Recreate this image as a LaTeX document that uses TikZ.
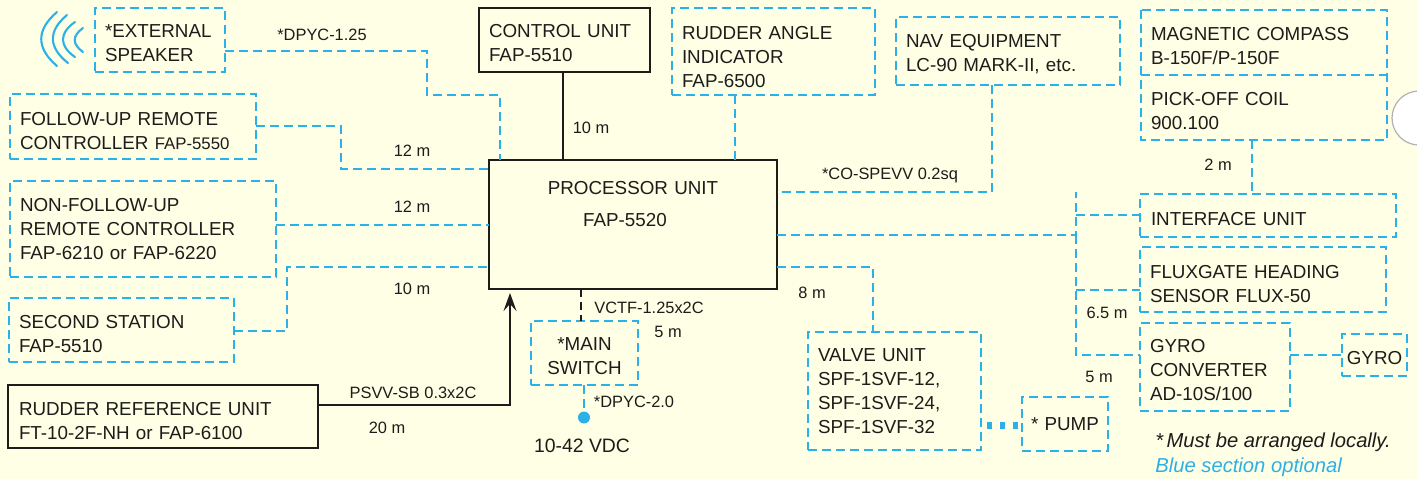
\documentclass[tikz,border=0pt]{standalone}
\usepackage{fontspec}
\setmainfont{Liberation Sans}
\usetikzlibrary{arrows.meta}
\definecolor{paper}{HTML}{FFFFE6}
\definecolor{cblue}{HTML}{2BB0E8}
\definecolor{ink}{HTML}{1C1C1A}
\tikzset{
  unit/.style={draw=ink,line width=1.1pt,inner sep=0pt,outer sep=0pt,align=left,text=ink,font=\fontsize{9.4}{12}\selectfont},
  optunit/.style={unit,draw=cblue,line width=1.3pt,dash pattern=on 4.4pt off 2.6pt},
  optwire/.style={draw=cblue,line width=1.3pt,dash pattern=on 4.4pt off 2.6pt},
  wire/.style={draw=ink,line width=1.1pt},
  lab/.style={text=ink,inner sep=0pt,font=\fontsize{8.2}{10}\selectfont},
  wave/.style={draw=cblue,line width=1.05pt,line cap=round},
  drop/.style={execute at begin node={\leavevmode\rule{0pt}{\dimexpr 6.8pt+#1\relax}}}
}
% style, name, x1, y1, x2, y2, inset(px), text
\newcommand{\ubox}[8]{%
  \pgfmathsetmacro\bw{(#5-#3)*0.5}%
  \pgfmathsetmacro\bh{(#6-#4)*0.5}%
  \pgfmathsetmacro\bcx{(#3+#5)/2}%
  \pgfmathsetmacro\bcy{(#4+#6)/2}%
  \pgfmathsetmacro\bin{#7*0.5}%
  \pgfmathsetmacro\btw{\bw-2*\bin}%
  \node[#1,minimum width=\bw pt,minimum height=\bh pt,inner xsep=\bin pt,text width=\btw pt] (#2) at (\bcx,\bcy) {#8};%
}
\begin{document}
\begin{tikzpicture}[x=0.5pt,y=-0.5pt]
\useasboundingbox (0,0) rectangle (1417,479);
\fill[paper] (0,0) rectangle (1417,479);
\begin{scope}
  \clip (0,0) rectangle (1417,479);
  \filldraw[fill=white,draw=black!30,line width=0.6pt] (1419,118) circle[radius=27];
\end{scope}

% speaker waves
\draw[wave] (57,12) .. controls (36,30) and (36,48) .. (57,66);
\draw[wave] (67,15) .. controls (48,31) and (48,47) .. (68,63);
\draw[wave] (75,22) .. controls (59,33) and (59,46) .. (75,57);
\draw[wave] (83,28) .. controls (72,36) and (72,44) .. (83,52);

% units
\ubox{optunit,drop=3pt}{spk}{95}{8}{225}{72}{10}{*EXTERNAL\\SPEAKER}
\ubox{optunit,drop=4pt}{fu}{10}{94}{256}{159}{10}{FOLLOW-UP REMOTE\\CONTROLLER {\fontsize{8.4}{12}\selectfont FAP-5550}}
\ubox{optunit}{nfu}{10}{181}{276}{277}{10}{NON-FOLLOW-UP\\REMOTE CONTROLLER\\FAP-6210 or FAP-6220}
\ubox{optunit,drop=4pt}{second}{9}{298}{234}{362}{10}{SECOND STATION\\FAP-5510}
\ubox{unit,drop=4pt}{rudref}{8}{385}{318}{448}{11}{RUDDER REFERENCE UNIT\\FT-10-2F-NH or FAP-6100}
\ubox{unit,drop=3pt}{ctrl}{479}{8}{650}{72}{10}{CONTROL UNIT\\FAP-5510}
\ubox{optunit,drop=5pt}{rai}{672}{8}{875}{95}{10}{RUDDER ANGLE\\INDICATOR\\FAP-6500}
\ubox{optunit,drop=3pt}{nav}{896}{17}{1120}{85}{10}{NAV EQUIPMENT\\LC-90 MARK-II, etc.}
\ubox{optunit,draw=none,drop=3.5pt}{mag}{1141}{10}{1387}{75}{10}{MAGNETIC COMPASS\\B-150F/P-150F}
\ubox{optunit,draw=none,drop=3.5pt}{pick}{1141}{75}{1387}{140}{10}{PICK-OFF COIL\\900.100}
\ubox{optunit,drop=3pt}{iface}{1140}{194}{1396}{237}{11}{INTERFACE UNIT}
\ubox{optunit,drop=4pt}{flux}{1140}{247}{1386}{312}{10}{FLUXGATE HEADING\\SENSOR FLUX-50}
\ubox{optunit,drop=3pt}{gconv}{1140}{323}{1290}{411}{10}{GYRO\\CONVERTER\\AD-10S/100}
\ubox{optunit,align=center,drop=3pt}{gyro}{1342}{334}{1407}{376}{2}{GYRO}
\ubox{optunit}{pump}{1022}{397}{1108}{451}{9}{* PUMP}
\ubox{optunit}{valve}{808}{332}{981}{450}{10}{VALVE UNIT\\SPF-1SVF-12,\\SPF-1SVF-24,\\SPF-1SVF-32}
\ubox{optunit,align=center,drop=3pt}{mains}{531}{321}{638}{385}{4}{*MAIN\\SWITCH}
\ubox{unit,align=center}{proc}{489}{160}{777}{289}{4}{PROCESSOR UNIT\\[4pt]\hspace*{-8pt}FAP-5520\\[9pt]\mbox{}}

% shared outline of the compass and pick-off coil
\draw[optwire] (mag.north west) rectangle (pick.south east);
\draw[optwire] (mag.south west) -- (mag.south east);

% power feed
\node[circle,fill=cblue,inner sep=0pt,minimum size=6pt] (dot) at (584,417.5) {};
\coordinate (procin) at (510,293);

% connectors
\draw[optwire] (spk.east |- 0,51) -| (427,95) -| (proc.north -| 500,0);
\draw[optwire] (fu.east |- 0,126) -| (341,169) -- (proc.west |- 0,169);
\draw[optwire] (nfu.east |- 0,225) -- (proc.west |- 0,225);
\draw[optwire] (second.east |- 0,331) -| (287,267) -- (proc.west |- 0,267);
\draw[wire,-{Stealth[length=9pt,width=6.5pt,inset=3.5pt]}] (rudref.east |- 0,405) -| (procin);
\draw[wire] (ctrl.south -| 563,0) -- (proc.north -| 563,0);
\draw[optwire] (rai.south -| 735,0) -- (proc.north -| 735,0);
\draw[optwire] (nav.south -| 992,0) |- (proc.east |- 0,192);
\draw[optwire] (proc.east |- 0,235) -| (1076,192);
\draw[optwire] (1076,235) |- (gconv.west |- 0,355);
\draw[optwire] (1076,215) -- (iface.west |- 0,215);
\draw[optwire] (1076,290) -- (flux.west |- 0,290);
\draw[optwire] (pick.south -| 1252,0) -- (iface.north -| 1252,0);
\draw[optwire] (proc.east |- 0,267) -| (valve.north -| 873,0);
\draw[ink,line width=1.1pt,dash pattern=on 4pt off 2.6pt] (proc.south -| 581,0) -- (mains.north -| 581,0);
\draw[optwire] (mains.south -| 584,0) -- (dot);
\draw[cblue,line width=3.5pt,dash pattern=on 2.5pt off 4pt,dash phase=3.75pt] (valve.east |- 0,425) -- (pump.west |- 0,425);
\draw[optwire] (gconv.east |- 0,355) -- (gyro.west |- 0,355);

% labels
\node[lab] (l1) at (322,35) {*DPYC-1.25};
\node[lab] (l2) at (412,151) {12 m};
\node[lab] (l3) at (412,207) {12 m};
\node[lab] (l4) at (412,289) {10 m};
\node[lab] (l5) at (413,393) {PSVV-SB 0.3x2C};
\node[lab] (l6) at (387,428) {20 m};
\node[lab] (l7) at (591,128) {10 m};
\node[lab] (l8) at (890,175) {*CO-SPEVV 0.2sq};
\node[lab] (l9) at (649,308) {VCTF-1.25x2C};
\node[lab] (l10) at (668,332) {5 m};
\node[lab] (l11) at (634,402) {*DPYC-2.0};
\node[lab,font=\fontsize{9.7}{11}\selectfont] (l12) at (582,446) {10-42 VDC};
\node[lab] (l13) at (812,293) {8 m};
\node[lab] (l14) at (1218,165) {2 m};
\node[lab] (l15) at (1107,313) {6.5 m};
\node[lab] (l16) at (1099,377) {5 m};
\node[lab,font=\fontsize{10.1}{12}\itshape\selectfont] (l17) at (1273,442) {*\,Must be arranged locally.};
\node[lab,anchor=west,text=cblue,font=\fontsize{10.1}{12}\itshape\selectfont] (l18) at (1155,467) {Blue section optional};
\end{tikzpicture}
\end{document}
